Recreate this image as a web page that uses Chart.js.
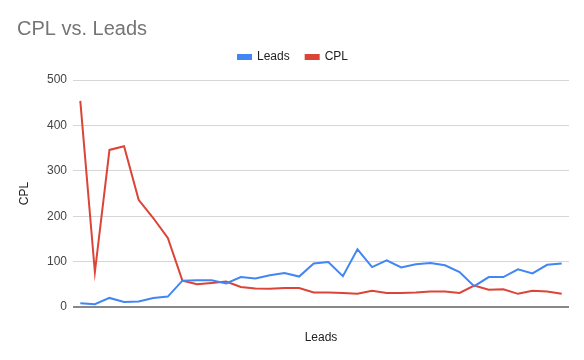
<!DOCTYPE html>
<html>
<head>
<meta charset="utf-8">
<script src="https://cdn.jsdelivr.net/npm/chart.js@4"></script>
<style>
  html, body { margin: 0; padding: 0; background: #fff; }
  #wrap { width: 584px; height: 360px; position: relative; }
</style>
</head>
<body>
<div id="wrap"><canvas id="cplChart" width="584" height="360"></canvas></div>
<script>
  // Values
  const leads = [8, 6, 20, 11, 12, 20, 23, 58, 59, 59, 52, 66, 63, 70, 75, 67, 96, 99, 68, 127,
    88, 103, 87, 94, 97, 92, 77, 46, 66, 66, 83, 74, 93, 96];
  const cpl = [454, 77, 346, 354, 236, 196, 152, 58, 50, 53, 56, 44, 41, 40, 42, 42, 32, 32, 31, 29,
    36, 31, 31, 32, 34, 34, 31, 47, 38, 39, 29, 36, 34, 29];
  const categories = leads.map(() => "");
  const yTicks = [0, 100, 200, 300, 400, 500];

  Chart.defaults.font.family = "Arial, 'Liberation Sans', sans-serif";
  Chart.defaults.color = "#222";

  // extra gap under the legend
  const legendGap = {
    id: "legendGap",
    beforeInit(chart) {
      const fit = chart.legend.fit;
      chart.legend.fit = function () {
        fit.bind(chart.legend)();
        this.height += 7;
      };
    }
  };

  const ctx = document.getElementById("cplChart").getContext("2d");
  const chart = new Chart(ctx, {
    type: "line",
    data: {
      labels: categories,
      datasets: [
        {
          label: "Leads",
          data: leads,
          borderColor: "#4285F4",
          backgroundColor: "#4285F4",
          borderWidth: 2,
          pointRadius: 0,
          tension: 0
        },
        {
          label: "CPL",
          data: cpl,
          borderColor: "#DB4437",
          backgroundColor: "#DB4437",
          borderWidth: 2,
          pointRadius: 0,
          tension: 0
        }
      ]
    },
    options: {
      responsive: false,
      animation: false,
      layout: { padding: { left: 17, right: 15, top: 12, bottom: 0 } },
      plugins: {
        title: {
          display: true,
          text: "CPL vs. Leads",
          align: "start",
          color: "#757575",
          font: { size: 20, weight: "normal" },
          padding: { top: 5, bottom: -6 }
        },
        legend: {
          position: "top",
          labels: {
            boxWidth: 13,
            boxHeight: 4,
            color: "#222",
            font: { size: 12 },
            padding: 16
          }
        },
        tooltip: { enabled: false }
      },
      scales: {
        x: {
          grid: { display: false },
          border: { display: false },
          ticks: { display: false },
          offset: true,
          title: {
            display: true,
            text: "Leads",
            color: "#222",
            font: { size: 12 },
            padding: { top: 0, bottom: 15 }
          },
          afterFit: (scale) => { scale.height = 53; }
        },
        y: {
          min: 0,
          max: 500,
          afterBuildTicks: (scale) => { scale.ticks = yTicks.map(v => ({ value: v })); },
          ticks: { color: "#444", font: { size: 12 }, padding: 6 },
          grid: {
            color: (c) => c.tick && c.tick.value === 0 ? "#888" : "#d6d6d6",
            lineWidth: (c) => c.tick && c.tick.value === 0 ? 2 : 1,
            drawTicks: false
          },
          border: { display: false },
          title: {
            display: true,
            text: "CPL",
            color: "#222",
            font: { size: 12 },
            padding: { top: 0, bottom: 14 }
          },
          afterFit: (scale) => { scale.width = 56; }
        }
      }
    },
    plugins: [legendGap]
  });
</script>
</body>
</html>
